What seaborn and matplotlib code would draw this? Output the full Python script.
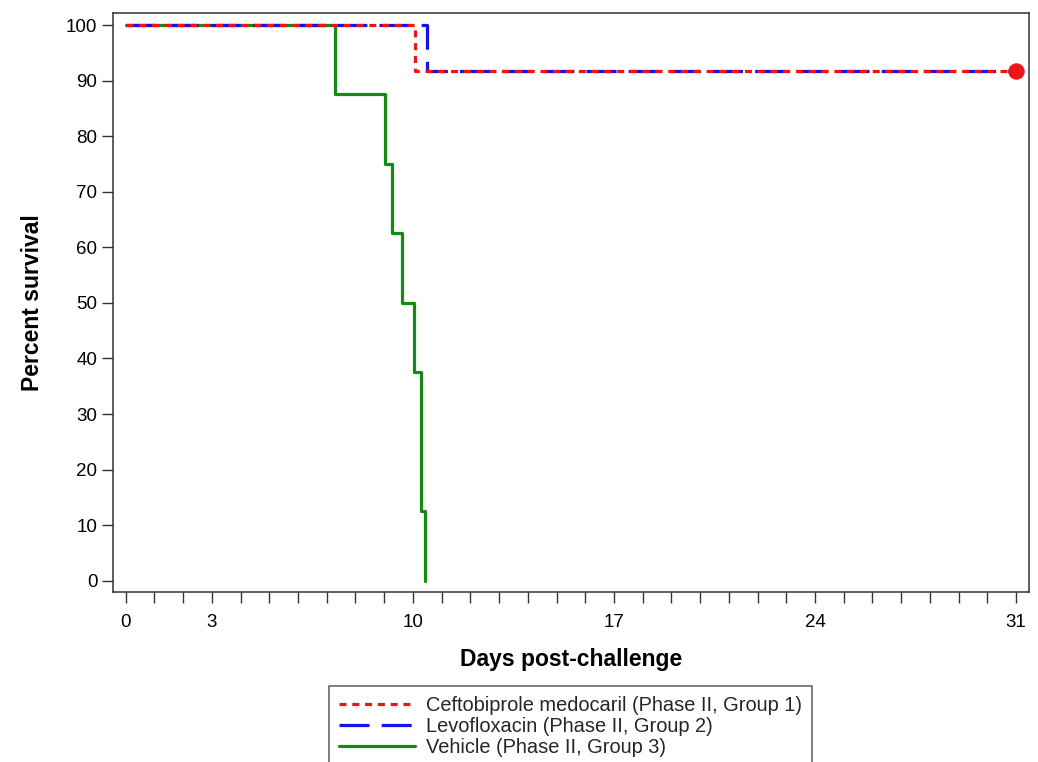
import matplotlib
matplotlib.use("Agg")
import matplotlib.pyplot as plt
import seaborn as sns
import pandas as pd

# Data (event times in days, percent survival after each event)
ceft_days = [0, 10.07, 31]
ceft_surv = [100, 91.67, 91.67]
levo_days = [0, 10.5, 31]
levo_surv = [100, 91.67, 91.67]
veh_days = [0, 7.29, 9.03, 9.28, 9.61, 10.04, 10.27, 10.42]
veh_surv = [100, 87.5, 75, 62.5, 50, 37.5, 12.5, 0]
censor_day = [31]
censor_surv = [91.67]

labels = ["Ceftobiprole medocaril (Phase II, Group 1)",
          "Levofloxacin (Phase II, Group 2)",
          "Vehicle (Phase II, Group 3)"]
x_tick_labels = [0, 3, 10, 17, 24, 31]
y_ticks = list(range(0, 101, 10))

sns.set_style("ticks")
plt.rcParams["font.family"] = ["Liberation Sans", "DejaVu Sans"]

fig = plt.figure(figsize=(10.38, 7.62), dpi=100)
ax = fig.add_axes([0.1092, 0.2231, 0.9913 - 0.1092, 0.9825 - 0.2231])

df_c = pd.DataFrame({"x": ceft_days, "y": ceft_surv})
df_l = pd.DataFrame({"x": levo_days, "y": levo_surv})
df_v = pd.DataFrame({"x": veh_days, "y": veh_surv})

green = "#148c14"
blue = "#1414e6"
red = "#f01414"
lw = 2.3

sns.lineplot(data=df_v, x="x", y="y", ax=ax, color=green, lw=lw,
             drawstyle="steps-post", estimator=None, sort=False,
             label=labels[2], zorder=3)
sns.lineplot(data=df_l, x="x", y="y", ax=ax, color=blue, lw=lw,
             drawstyle="steps-post", estimator=None, sort=False,
             label=labels[1], zorder=4)
sns.lineplot(data=df_c, x="x", y="y", ax=ax, color=red, lw=lw,
             drawstyle="steps-post", estimator=None, sort=False,
             label=labels[0], zorder=5)
lines = ax.get_lines()
lines[1].set_linestyle((0, (9.4, 3.8)))
lines[2].set_linestyle((0, (2.2, 1.8)))

sns.scatterplot(x=censor_day, y=censor_surv, ax=ax, color=red, s=120,
                edgecolor=red, zorder=6, legend=False)

ax.set_xlim(-0.43, 31.45)
ax.set_ylim(-2.03, 102.1)
ax.set_xticks(range(0, 32))
ax.set_xticklabels([str(i) if i in x_tick_labels else "" for i in range(0, 32)])
ax.set_yticks(y_ticks)
ax.tick_params(axis="both", labelsize=13.5, length=8, width=1, color="#333333",
               direction="out", labelcolor="black")
ax.tick_params(axis="x", pad=8)
ax.tick_params(axis="y", pad=3.5)
for s in ax.spines.values():
    s.set_visible(True)
    s.set_color("#333333")
    s.set_linewidth(1.1)

ax.set_xlabel("Days post-challenge", fontsize=16.5, fontweight="bold",
              labelpad=12, color="black")
ax.set_ylabel("Percent survival", fontsize=16.5, fontweight="bold",
              labelpad=16, color="black")

handles, labs = ax.get_legend_handles_labels()
order = [labs.index(l) for l in labels]
leg = ax.legend([handles[i] for i in order], [labs[i] for i in order],
                loc="upper center", bbox_to_anchor=(0.5496, 0.0997),
                bbox_transform=fig.transFigure, frameon=True, fancybox=False,
                edgecolor="#333333", fontsize=14.4, handlelength=3.8,
                handletextpad=0.55, labelspacing=0.1, borderpad=0.5,
                borderaxespad=0)
leg.get_frame().set_linewidth(1.1)

fig.savefig("out.png", dpi=100)
